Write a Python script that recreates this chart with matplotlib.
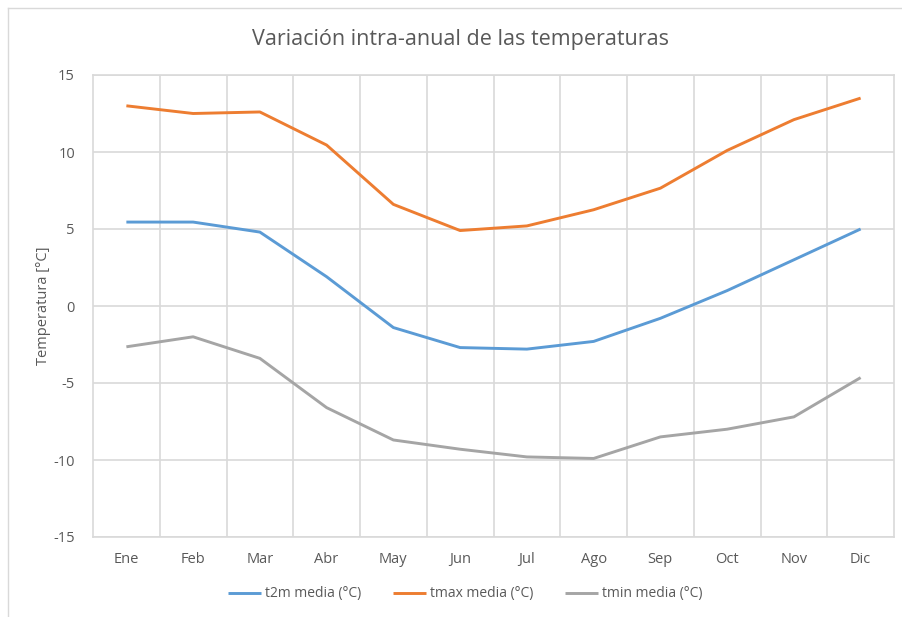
import numpy as np
import matplotlib
matplotlib.use("Agg")
import matplotlib.pyplot as plt
from matplotlib.lines import Line2D

meses = ["Ene", "Feb", "Mar", "Abr", "May", "Jun", "Jul", "Ago", "Sep", "Oct", "Nov", "Dic"]
t2m = [5.45, 5.45, 4.8, 1.9, -1.4, -2.7, -2.8, -2.3, -0.8, 1.0, 3.0, 5.0]
tmax = [13.0, 12.5, 12.6, 10.45, 6.6, 4.9, 5.2, 6.25, 7.65, 10.1, 12.1, 13.5]
tmin = [-2.65, -2.0, -3.4, -6.6, -8.7, -9.3, -9.8, -9.9, -8.5, -8.0, -7.2, -4.65]
y_ticks = [-15, -10, -5, 0, 5, 10, 15]

plt.rcParams["font.family"] = ["Open Sans", "DejaVu Sans"]
plt.rcParams["axes.unicode_minus"] = False
text_color = "#595959"
grid_color = "#d9d9d9"

fig = plt.figure(figsize=(9.02, 6.17), dpi=100)
ax = fig.add_axes([93 / 902, 80 / 617, 801 / 902, 462 / 617])

x = np.arange(len(meses))
ax.plot(x, t2m, color="#5B9BD5", lw=2.1, label="t2m media (°C)", solid_capstyle="butt")
ax.plot(x, tmax, color="#ED7D31", lw=2.1, label="tmax media (°C)", solid_capstyle="butt")
ax.plot(x, tmin, color="#A5A5A5", lw=2.1, label="tmin media (°C)", solid_capstyle="butt")

ax.set_xlim(-0.5, len(meses) - 0.5)
ax.set_ylim(-15, 15)
ax.set_yticks(y_ticks)
ax.set_xticks(x)
ax.set_xticklabels(meses)
ax.set_xticks(x[:-1] + 0.5, minor=True)
ax.grid(True, which="minor", axis="x", color=grid_color, lw=1.2)
ax.grid(True, which="major", axis="y", color=grid_color, lw=1.2)
ax.set_axisbelow(True)
for s in ax.spines.values():
    s.set_color(grid_color)
    s.set_linewidth(1.2)
ax.tick_params(which="both", length=0, labelsize=10.5, labelcolor=text_color)
ax.tick_params(axis="x", pad=11)
ax.tick_params(axis="y", pad=13)
ax.set_ylabel("Temperatura [°C]", fontsize=10.5, color=text_color, labelpad=2)

fig.text(0.510, 1 - 40 / 617, "Variación intra-anual de las temperaturas",
         ha="center", va="center", fontsize=15.5, color=text_color)

ax.legend(loc="center", bbox_to_anchor=(465 / 902, 1 - 594 / 617), bbox_transform=fig.transFigure,
          ncol=3, frameon=False, fontsize=10, labelcolor=text_color, handlelength=2.4,
          handletextpad=0.25, columnspacing=2.3)

# chart frame (only left/top visible in the crop)
fig.add_artist(Line2D([8 / 902, 8 / 902], [0, 1 - 8 / 617], transform=fig.transFigure, color=grid_color, lw=1))
fig.add_artist(Line2D([8 / 902, 1], [1 - 8 / 617, 1 - 8 / 617], transform=fig.transFigure, color=grid_color, lw=1))

fig.savefig("out.png", dpi=100)
